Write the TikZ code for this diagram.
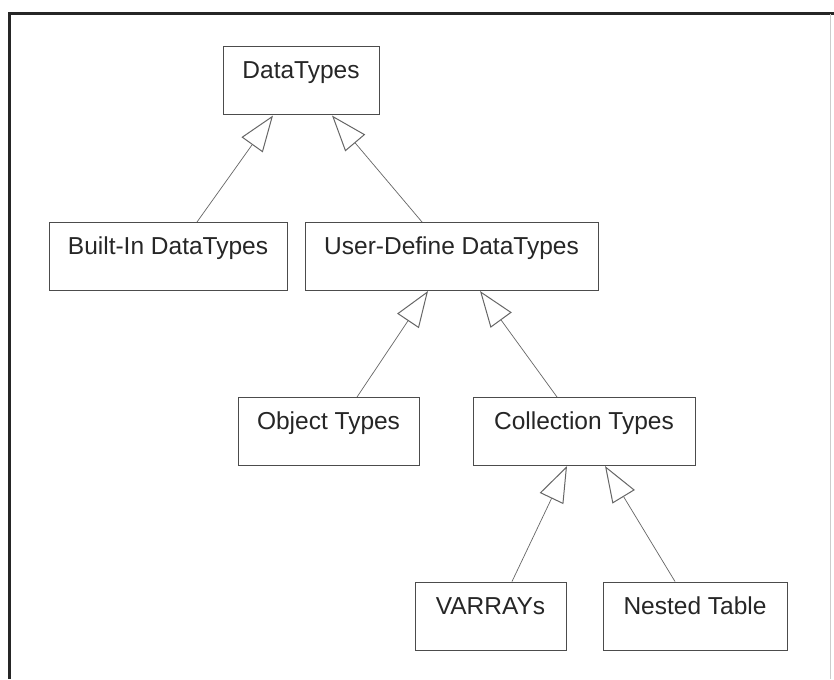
\documentclass[tikz,border=0pt]{standalone}
\usepackage{fontspec}
\setmainfont{Liberation Sans}
\usetikzlibrary{arrows.meta}
\begin{document}
\begin{tikzpicture}[x=1pt,y=-1pt,
  cls/.style={draw=black!70, line width=1pt, inner xsep=0pt, inner ysep=0pt,
    text height=32pt, text depth=36pt, minimum height=68pt,
    font=\fontsize{24.5}{28}\selectfont, text=black!85},
  gen/.style={draw=black!60, line width=0.7pt,
    -{Triangle[open, length=36pt, width=26pt, fill=white, line width=1pt]}}]
  \useasboundingbox (0,0) rectangle (834,679);
  \fill[white] (0,0) rectangle (834,679);

  % page frame
  \draw[line width=3pt, black!85] (834,14) -- (9,14) -- (9,679);
  \draw[line width=0.8pt, black!20] (830,14) -- (830,679);

  % classes
  \node[cls, minimum width=156pt] (dt) at (301,81)    {DataTypes};
  \node[cls, minimum width=238pt] (bi) at (168,256.5) {Built-In DataTypes};
  \node[cls, minimum width=293pt] (ud) at (451.5,256.5) {User-Define DataTypes};
  \node[cls, minimum width=181pt] (ob) at (328.5,431.5) {Object Types};
  \node[cls, minimum width=222pt] (co) at (584,431.5) {Collection Types};
  \node[cls, minimum width=151pt] (va) at (490.5,616) {VARRAYs};
  \node[cls, minimum width=184pt] (ne) at (695,616)   {Nested Table};

  % generalisations
  \draw[gen] ([xshift=29pt]bi.north)    -- ([xshift=-28pt]dt.south);
  \draw[gen] ([xshift=-29.5pt]ud.north) -- ([xshift=31pt]dt.south);
  \draw[gen] ([xshift=28.5pt]ob.north)  -- ([xshift=-23.5pt]ud.south);
  \draw[gen] ([xshift=-27pt]co.north)   -- ([xshift=28.5pt]ud.south);
  \draw[gen] ([xshift=21.5pt]va.north)  -- ([xshift=-17pt]co.south);
  \draw[gen] ([xshift=-20pt]ne.north)   -- ([xshift=21pt]co.south);
\end{tikzpicture}
\end{document}
